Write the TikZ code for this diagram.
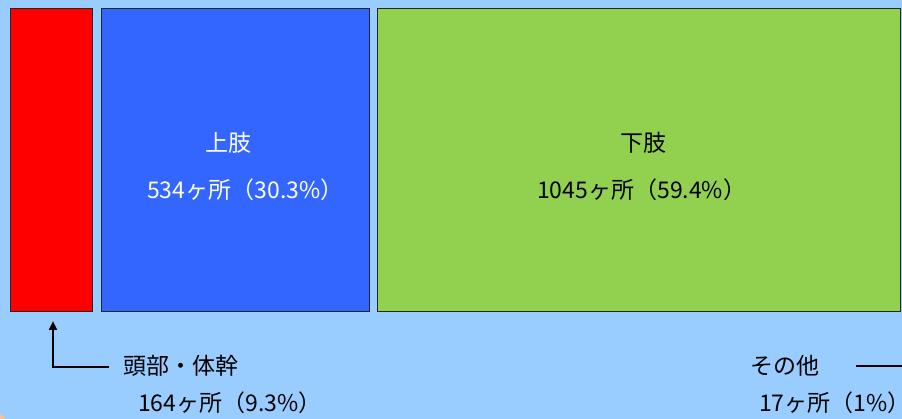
\documentclass[tikz,border=0pt]{standalone}
\usepackage{fontspec}
\setmainfont{Noto Sans CJK JP}
\usetikzlibrary{arrows.meta}
\definecolor{bgblue}{HTML}{99CCFF}
\definecolor{boxred}{HTML}{FF0000}
\definecolor{boxblue}{HTML}{3366FF}
\definecolor{boxgreen}{HTML}{92D050}
\definecolor{peach}{HTML}{FAC090}
\tikzset{
  box/.style={draw=black!85, line width=1pt, anchor=north west, inner sep=0pt},
  lbl/.style={font=\fontsize{23}{25}\selectfont, inner sep=0pt},
  conn/.style={line width=2.6pt, black}
}
\begin{document}
\begin{tikzpicture}[x=1pt,y=-1pt]
\useasboundingbox (0,0) rectangle (902,419);
\fill[bgblue] (0,0) rectangle (902,419);
\begin{scope}
\clip (0,0) rectangle (902,419);
\fill[peach] (-4,423) circle (10);
\end{scope}
\node[box, fill=boxred, minimum width=82pt, minimum height=303pt] (head) at (10,8) {};
\node[box, fill=boxblue, minimum width=268pt, minimum height=303pt] (upper) at (101,8) {};
\node[box, fill=boxgreen, minimum width=523pt, minimum height=303pt] (lower) at (377,8) {};
% labels in boxes
\node[lbl, text=white] (upt) at (228,143) {上肢};
\node[lbl, text=white, anchor=west] (upn) at (147,190) {534ヶ所（30.3\%）};
\node[lbl, text=black] (lot) at (643,143) {下肢};
\node[lbl, text=black, anchor=west] (lon) at (537,190) {1045ヶ所（59.4\%）};
% bottom labels
\node[lbl, anchor=west] (hdt) at (123,366) {頭部・体幹};
\node[lbl, anchor=west] (hdn) at (138,403) {164ヶ所（9.3\%）};
\node[lbl, anchor=west] (oth) at (750,366) {その他};
\node[lbl, anchor=west] (othn) at (759,403) {17ヶ所（1\%）};
% connectors
\coordinate (a1) at (109,367);
\coordinate (atip) at (53,321);
\draw[conn, -{Triangle[width=8pt,length=9pt]}] (a1) -| (atip);
\coordinate (o1) at (856,366);
\coordinate (o2) at (904,366);
\draw[conn] (o1) -- (o2);
\end{tikzpicture}
\end{document}
